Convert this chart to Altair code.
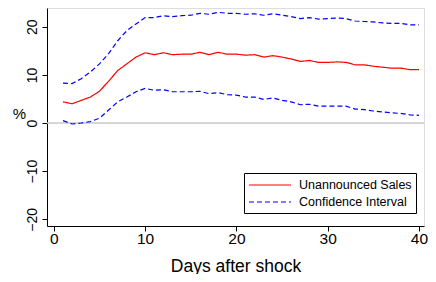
import altair as alt
import pandas as pd

days = list(range(1, 41))
sales = [4.4, 4.0, 4.7, 5.4, 6.6, 8.7, 10.9, 12.3, 13.7, 14.6,
         14.2, 14.6, 14.2, 14.3, 14.3, 14.7, 14.2, 14.7, 14.3, 14.3,
         14.1, 14.2, 13.7, 14.0, 13.7, 13.3, 12.8, 13.0, 12.6, 12.6,
         12.7, 12.6, 12.1, 12.1, 11.8, 11.6, 11.4, 11.4, 11.1, 11.1]
upper = [8.3, 8.2, 9.2, 10.6, 12.3, 14.4, 17.1, 19.2, 20.6, 21.9,
         21.9, 22.3, 22.1, 22.3, 22.4, 22.8, 22.6, 23.0, 22.8, 22.8,
         22.6, 22.7, 22.4, 22.7, 22.4, 22.1, 21.7, 21.9, 21.6, 21.7,
         21.8, 21.7, 21.2, 21.1, 21.0, 20.8, 20.7, 20.7, 20.4, 20.4]
lower = [0.5, -0.2, 0.0, 0.3, 1.0, 2.7, 4.4, 5.4, 6.5, 7.2,
         6.8, 6.9, 6.5, 6.5, 6.5, 6.6, 6.1, 6.3, 5.9, 5.8,
         5.4, 5.4, 4.9, 5.2, 4.7, 4.4, 3.8, 3.9, 3.5, 3.5,
         3.5, 3.5, 2.9, 2.8, 2.5, 2.3, 2.1, 2.0, 1.7, 1.6]

series_names = ["Unannounced Sales", "Confidence Interval"]
series_colors = ["#ff0000", "#0000ff"]
series_dash = [[1, 0], [5, 3]]
x_ticks = [0, 10, 20, 30, 40]
y_ticks = [-20, -10, 0, 10, 20]

rows = []
for d, s, u, l in zip(days, sales, upper, lower):
    rows.append({"day": d, "value": s, "series": series_names[0], "band": "sales"})
    rows.append({"day": d, "value": u, "series": series_names[1], "band": "upper"})
    rows.append({"day": d, "value": l, "series": series_names[1], "band": "lower"})
df = pd.DataFrame(rows)

FONT = "Liberation Sans"
yscale = alt.Scale(domain=[-21.4, 23.9], nice=False, zero=False)
xscale = alt.Scale(domain=[-0.75, 40.55], nice=False, zero=False)

zero = alt.Chart(pd.DataFrame({"y": [0]})).mark_rule(
    color="#c8c8c8", strokeWidth=1.5
).encode(y=alt.Y("y:Q", scale=yscale))

legend = alt.Legend(
    title=None, orient="none", legendX=197, legendY=165,
    strokeColor="black", fillColor="white", padding=4,
    symbolType="M-1,0H5", symbolSize=196, symbolStrokeWidth=1.2,
    labelFont=FONT, labelFontSize=12.5, labelColor="black",
    labelOffset=35, rowPadding=2,
)

lines = alt.Chart(df).mark_line(strokeWidth=1.2).encode(
    x=alt.X("day:Q", scale=xscale, axis=alt.Axis(
        values=x_ticks, title="Days after shock", grid=False,
        labelFont=FONT, labelFontSize=15.5, labelColor="black", labelPadding=0,
        tickSize=5, tickColor="black", domainColor="black",
        titleFont=FONT, titleFontSize=17.5, titleFontWeight="normal", titleColor="black",
        titleBaseline="alphabetic", titleY=45,
    )),
    y=alt.Y("value:Q", scale=yscale, axis=alt.Axis(
        values=y_ticks, title="%", grid=False,
        labelFont=FONT, labelFontSize=14, labelColor="black",
        labelAngle=270, labelAlign="center", labelBaseline="bottom", labelPadding=3,
        tickSize=5, tickColor="black", domainColor="black",
        titleFont=FONT, titleFontSize=15, titleFontWeight="normal", titleColor="black",
        titleAngle=0, titleAlign="center", titleBaseline="middle", titleX=-28, titleY=105,
    )),
    color=alt.Color("series:N", scale=alt.Scale(domain=series_names, range=series_colors), legend=legend),
    strokeDash=alt.StrokeDash("series:N", scale=alt.Scale(domain=series_names, range=series_dash), legend=legend),
    detail="band:N",
)

chart = alt.layer(zero, lines).properties(
    width=377, height=218,
    autosize=alt.AutoSizeParams(type="none"),
    padding={"left": 39, "top": 0, "right": 4, "bottom": 48},
).configure_view(stroke="black", strokeWidth=1).configure(background="white")

chart.save("out.html", embed_options={"renderer": "svg", "actions": False})
